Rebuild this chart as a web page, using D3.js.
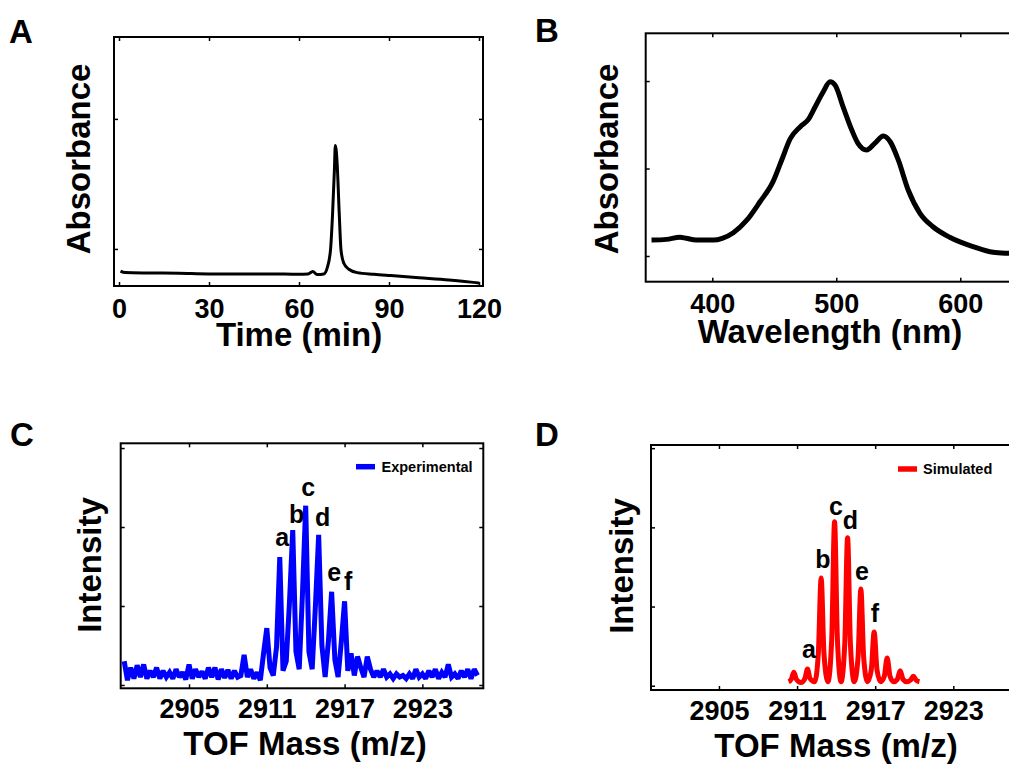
<!DOCTYPE html>
<html>
<head>
<meta charset="utf-8">
<script src="https://cdn.jsdelivr.net/npm/d3@7"></script>
<style>
  body { margin: 0; background: #fff; }
  svg { display: block; font-family: "Liberation Sans", Arial, Helvetica, sans-serif; font-weight: bold; }
</style>
</head>
<body>
<svg id="fig"></svg>
<script>
const width = 1009;
const height = 765;

// --- A: HPLC trace (time in min, absorbance a.u.) ---
const hplcTime = [0.5, 2, 10, 20, 30, 40, 50, 60, 63, 64.6, 66, 68.3, 69.4, 70.5, 71.2, 71.8, 72.1, 72.7, 73.4, 74, 74.9, 76.6, 79.4, 85, 90.6, 100, 110, 119, 120];
const hplcAbs  = [0.83, 0.818, 0.815, 0.813, 0.808, 0.808, 0.808, 0.805, 0.808, 0.827, 0.804, 0.808, 0.854, 0.992, 1.277, 1.608, 1.796, 1.662, 1.277, 0.992, 0.892, 0.844, 0.818, 0.805, 0.795, 0.779, 0.762, 0.741, 0.738];

// --- B: UV-vis spectrum (wavelength nm, absorbance a.u.) ---
const uvWavelength = [351, 363, 374, 379, 387, 401, 408, 417, 428, 438.5, 449, 456, 463, 471, 477.5, 483, 489.5, 495, 499, 505.5, 512.5, 517.5, 524.5, 531, 538, 543.5, 550, 558, 567.5, 578, 591.5, 610.5, 626.5, 639.5, 650];
const uvAbs        = [0.091, 0.095, 0.107, 0.101, 0.091, 0.091, 0.101, 0.133, 0.206, 0.31, 0.425, 0.549, 0.672, 0.739, 0.781, 0.853, 0.939, 0.996, 0.977, 0.853, 0.72, 0.644, 0.606, 0.644, 0.686, 0.653, 0.549, 0.377, 0.244, 0.167, 0.107, 0.053, 0.021, 0.015, 0.012];

// --- C: experimental MALDI-TOF (m/z grid start/step, intensity a.u.) ---
const expMzStart = 2900;
const expMzStep = 0.25;
const expIntensity = [
  0.30, 0.06, 0.22, 0.08, 0.25, 0.10, 0.26, 0.08, 0.18, 0.10,
  0.22, 0.08, 0.18, 0.10, 0.16, 0.08, 0.20, 0.10, 0.16, 0.07,
  0.26, 0.08, 0.20, 0.10, 0.17, 0.08, 0.22, 0.10, 0.22, 0.07,
  0.20, 0.09, 0.19, 0.08, 0.18, 0.10, 0.12, 0.38, 0.10, 0.20,
  0.08, 0.16, 0.06, 0.40, 0.72, 0.22, 0.12, 0.48, 1.62, 0.18,
  0.30, 1.05, 1.96, 0.42, 0.20, 1.15, 2.27, 0.42, 0.20, 1.00,
  1.90, 0.50, 0.10, 0.55, 1.18, 0.32, 0.10, 0.55, 1.06, 0.18,
  0.40, 0.12, 0.36, 0.22, 0.10, 0.36, 0.20, 0.10, 0.18, 0.10,
  0.20, 0.10, 0.14, 0.08, 0.14, 0.10, 0.12, 0.08, 0.14, 0.08,
  0.20, 0.10, 0.14, 0.08, 0.18, 0.10, 0.20, 0.08, 0.16, 0.10,
  0.26, 0.10, 0.14, 0.08, 0.18, 0.10, 0.20, 0.08, 0.20, 0.12
];

// --- D: simulated isotope pattern ---
const simMz = [2910.35, 2910.55, 2910.75, 2910.95, 2911.3, 2911.6, 2911.8, 2912.0, 2912.35, 2912.63, 2912.85, 2913.07, 2913.37, 2913.66, 2913.88, 2914.1, 2914.38, 2914.66, 2914.88, 2915.1, 2915.39, 2915.68, 2915.9, 2916.12, 2916.41, 2916.7, 2916.92, 2917.14, 2917.42, 2917.7, 2917.92, 2918.14, 2918.42, 2918.7, 2918.92, 2919.14, 2919.42, 2919.71, 2919.93, 2920.15, 2920.4];
const simIntensity = [0.05, 0.08, 0.17, 0.08, 0.04, 0.09, 0.21, 0.09, 0.05, 0.4, 1.36, 0.4, 0.05, 0.58, 2.07, 0.58, 0.05, 0.52, 1.87, 0.52, 0.05, 0.35, 1.22, 0.35, 0.05, 0.2, 0.68, 0.2, 0.05, 0.12, 0.35, 0.12, 0.05, 0.08, 0.19, 0.08, 0.05, 0.07, 0.12, 0.07, 0.05];

// peak letters
const peakNames = ["a", "b", "c", "d", "e", "f"];
const expLabelMz  = [2912.18, 2913.3, 2914.2, 2915.3, 2916.19, 2917.27];
const expLabelInt = [1.76, 2.05, 2.39, 2.01, 1.32, 1.2];
const simLabelMz  = [2911.91, 2912.99, 2913.99, 2915.1, 2915.98, 2916.98];
const simLabelInt = [0.35, 1.49, 2.16, 1.98, 1.33, 0.81];

// tick values
const timeTicks = [0, 30, 60, 90, 120];
const wlTicks = [400, 500, 600];
const mzTicks = [2905, 2911, 2917, 2923];

const svg = d3.select("#fig")
  .attr("width", width)
  .attr("height", height);

// --- one boxed panel with inward ticks on all four sides ---
function drawPanel(cfg) {
  const x = d3.scaleLinear().domain(cfg.xDomain).range([cfg.left, cfg.right]);
  const y = d3.scaleLinear().domain(cfg.yDomain).range([cfg.bottom, cfg.top]);
  const g = svg.append("g");

  const axes = [
    [d3.axisBottom(x).tickValues(cfg.xTicks).tickPadding(cfg.pad).tickFormat(d3.format("d")), `translate(0,${cfg.bottom})`],
    [d3.axisTop(x).tickValues(cfg.xTicks).tickFormat(""), `translate(0,${cfg.top})`],
    [d3.axisLeft(y).tickValues(cfg.yTicks).tickFormat(""), `translate(${cfg.left},0)`],
    [d3.axisRight(y).tickValues(cfg.yTicks).tickFormat(""), `translate(${cfg.right},0)`]
  ];
  axes.forEach(([ax, tr]) => {
    const a = g.append("g")
      .attr("transform", tr)
      .call(ax.tickSizeInner(-4).tickSizeOuter(0))
      .attr("font-family", null)
      .attr("font-size", null);
    a.select(".domain").remove();
    a.selectAll("line").attr("stroke", "#000").attr("stroke-width", 1.5);
    a.selectAll("text").attr("fill", "#000").attr("font-size", 27);
  });

  g.append("rect")
    .attr("x", cfg.left)
    .attr("y", cfg.top)
    .attr("width", cfg.right - cfg.left)
    .attr("height", cfg.bottom - cfg.top)
    .attr("fill", "none")
    .attr("stroke", "#000")
    .attr("stroke-width", 2);

  // axis titles
  g.append("text")
    .attr("x", cfg.xTitlePos[0])
    .attr("y", cfg.xTitlePos[1])
    .attr("text-anchor", "middle")
    .attr("font-size", 33)
    .text(cfg.xTitle);

  g.append("text")
    .attr("transform", `translate(${cfg.yTitlePos[0]},${cfg.yTitlePos[1]}) rotate(-90)`)
    .attr("text-anchor", "middle")
    .attr("font-size", 33)
    .text(cfg.yTitle);

  // panel letter
  svg.append("text")
    .attr("x", cfg.letterPos[0])
    .attr("y", cfg.letterPos[1])
    .attr("font-size", 33)
    .text(cfg.letter);

  return { x, y, g };
}

// --- A ---
const pA = drawPanel({
  left: 114, right: 483, top: 37, bottom: 286,
  xDomain: [-1.67, 121.33], yDomain: [0.715, 2.63],
  xTicks: timeTicks, yTicks: [1, 2], pad: 13,
  xTitle: "Time (min)", xTitlePos: [299, 346],
  yTitle: "Absorbance", yTitlePos: [90, 159],
  letter: "A", letterPos: [9, 43]
});
pA.g.append("path")
  .datum(d3.zip(hplcTime, hplcAbs))
  .attr("fill", "none")
  .attr("stroke", "#000")
  .attr("stroke-width", 3)
  .attr("d", d3.line().x(d => pA.x(d[0])).y(d => pA.y(d[1])).curve(d3.curveMonotoneX));

// --- B ---
const pB = drawPanel({
  left: 645.7, right: 1040, top: 33.3, bottom: 281.7,
  xDomain: [346.3, 664.3], yDomain: [-0.147, 1.273],
  xTicks: wlTicks, yTicks: [0, 0.5, 1], pad: 12,
  xTitle: "Wavelength (nm)", xTitlePos: [830, 343],
  yTitle: "Absorbance", yTitlePos: [618, 159],
  letter: "B", letterPos: [535, 42]
});
pB.g.append("path")
  .datum(d3.zip(uvWavelength, uvAbs))
  .attr("fill", "none")
  .attr("stroke", "#000")
  .attr("stroke-width", 5)
  .attr("stroke-linejoin", "round")
  .attr("d", d3.line().x(d => pB.x(d[0])).y(d => pB.y(d[1])).curve(d3.curveMonotoneX));

// --- C ---
const pC = drawPanel({
  left: 120.7, right: 483.3, top: 443.3, bottom: 688.3,
  xDomain: [2899.73, 2927.7], yDomain: [-0.042, 3.06],
  xTicks: mzTicks, yTicks: [0, 1, 2, 3], pad: 11,
  xTitle: "TOF Mass (m/z)", xTitlePos: [305, 755],
  yTitle: "Intensity", yTitlePos: [101, 565],
  letter: "C", letterPos: [10, 446]
});
const expData = expIntensity.map((v, i) => [expMzStart + i * expMzStep, v]);
pC.g.append("path")
  .datum(expData)
  .attr("fill", "none")
  .attr("stroke", "#0000ff")
  .attr("stroke-width", 5)
  .attr("stroke-linejoin", "miter")
  .attr("stroke-miterlimit", 2)
  .attr("d", d3.line().x(d => pC.x(d[0])).y(d => pC.y(d[1])));
pC.g.selectAll(".peak-label")
  .data(peakNames)
  .join("text")
  .attr("class", "peak-label")
  .attr("x", (d, i) => pC.x(expLabelMz[i]))
  .attr("y", (d, i) => pC.y(expLabelInt[i]))
  .attr("text-anchor", "middle")
  .attr("font-size", 25)
  .text(d => d);
// legend
pC.g.append("line")
  .attr("x1", 356).attr("x2", 375)
  .attr("y1", 466.7).attr("y2", 466.7)
  .attr("stroke", "#0000ff")
  .attr("stroke-width", 5.5);
pC.g.append("text")
  .attr("x", 381.5).attr("y", 471.7)
  .attr("font-size", 14.5)
  .text("Experimental");

// --- D ---
const pD = drawPanel({
  left: 651, right: 1040, top: 445, bottom: 690,
  xDomain: [2899.78, 2929.66], yDomain: [-0.054, 3.04],
  xTicks: mzTicks, yTicks: [0, 1, 2, 3], pad: 11,
  xTitle: "TOF Mass (m/z)", xTitlePos: [836, 757],
  yTitle: "Intensity", yTitlePos: [633, 566],
  letter: "D", letterPos: [535, 446]
});
pD.g.append("path")
  .datum(d3.zip(simMz, simIntensity))
  .attr("fill", "none")
  .attr("stroke", "#ff0000")
  .attr("stroke-width", 5)
  .attr("d", d3.line().x(d => pD.x(d[0])).y(d => pD.y(d[1])).curve(d3.curveMonotoneX));
pD.g.selectAll(".peak-label")
  .data(peakNames)
  .join("text")
  .attr("class", "peak-label")
  .attr("x", (d, i) => pD.x(simLabelMz[i]))
  .attr("y", (d, i) => pD.y(simLabelInt[i]))
  .attr("text-anchor", "middle")
  .attr("font-size", 25)
  .text(d => d);
pD.g.append("line")
  .attr("x1", 898).attr("x2", 917)
  .attr("y1", 469).attr("y2", 469)
  .attr("stroke", "#ff0000")
  .attr("stroke-width", 5.5);
pD.g.append("text")
  .attr("x", 923).attr("y", 473.5)
  .attr("font-size", 14.5)
  .text("Simulated");
</script>
</body>
</html>
